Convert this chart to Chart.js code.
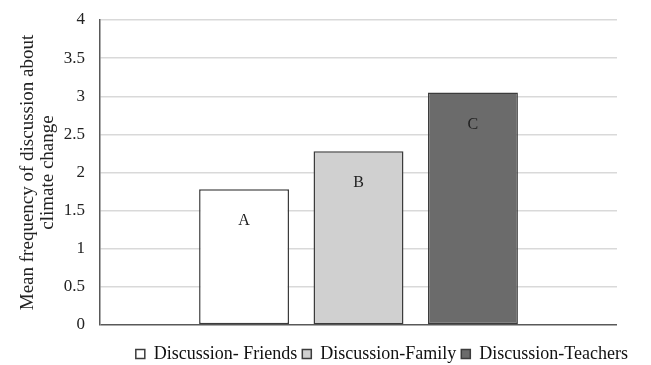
<!DOCTYPE html>
<html>
<head>
<meta charset="utf-8">
<script src="https://cdn.jsdelivr.net/npm/chart.js@4"></script>
<style>
  html, body { margin: 0; padding: 0; background: #fff; }
  #wrap { width: 651px; height: 365px; }
</style>
</head>
<body>
<div id="wrap"><canvas id="meansChart"></canvas></div>
<script>
// values
const seriesNames = ['Discussion- Friends', 'Discussion-Family', 'Discussion-Teachers'];
const means = [1.78, 2.28, 3.05];
const groupLetters = ['A', 'B', 'C'];
const fills = ['#ffffff', '#d0d0d0', '#6b6b6b'];

const serif = 'Liberation Serif, Times New Roman, serif';

// letter inside each bar, a little below its top
const letterPlugin = {
  id: 'letters',
  afterDatasetsDraw(chart) {
    const ctx = chart.ctx;
    ctx.save();
    ctx.font = '16px ' + serif;
    ctx.fillStyle = '#222';
    ctx.textAlign = 'center';
    ctx.textBaseline = 'middle';
    chart.data.datasets.forEach((ds, i) => {
      const bar = chart.getDatasetMeta(i).data[0];
      ctx.fillText(groupLetters[i], bar.x, bar.y + 32);
    });
    ctx.restore();
  }
};

const ctx = document.getElementById('meansChart').getContext('2d');
new Chart(ctx, {
  type: 'bar',
  data: {
    labels: [''],
    datasets: seriesNames.map((name, i) => ({
      label: name,
      data: [means[i]],
      backgroundColor: fills[i],
      borderColor: '#3c3c3c',
      borderWidth: 1.5,
      borderSkipped: false,
      barPercentage: 0.786,
      categoryPercentage: 0.664
    }))
  },
  options: {
    responsive: true,
    maintainAspectRatio: false,
    animation: false,
    layout: { padding: { top: 0, right: 18, bottom: -8, left: 16 } },
    plugins: {
      legend: {
        position: 'bottom',
        align: 'end',
        labels: {
          font: { family: serif, size: 18 },
          color: '#111',
          boxWidth: 9,
          boxHeight: 9,
          padding: 5
        }
      },
      tooltip: { enabled: false }
    },
    scales: {
      // invisible x axis, only keeps a gap above the legend
      x: {
        display: true,
        ticks: { display: false },
        grid: { display: false, drawTicks: true, tickLength: 15 },
        border: { display: false }
      },
      y: {
        min: 0,
        max: 4,
        afterFit: s => {
          s.width = 84;
          s.paddingTop = 20;
          s.paddingBottom = 10;
        },
        ticks: {
          stepSize: 0.5,
          padding: 15,
          color: '#222',
          font: { family: serif, size: 17 },
          callback: v => String(v)
        },
        grid: {
          drawTicks: false,
          lineWidth: 1.5,
          color: c => c.tick.value === 0 ? '#595959' : '#d9d9d9'
        },
        border: { color: '#595959', width: 1.5 },
        title: {
          display: true,
          text: ['Mean frequency of discussion about', 'climate change'],
          font: { family: serif, size: 19, lineHeight: 1.05 },
          color: '#222',
          padding: { top: 2, bottom: 4 }
        }
      },
      // empty right axis, just leaves room right of the plot
      yRight: {
        position: 'right',
        display: true,
        afterFit: s => { s.width = 16; },
        ticks: { display: false },
        grid: { display: false, drawTicks: false },
        border: { display: false }
      }
    }
  },
  plugins: [letterPlugin]
});
</script>
</body>
</html>
